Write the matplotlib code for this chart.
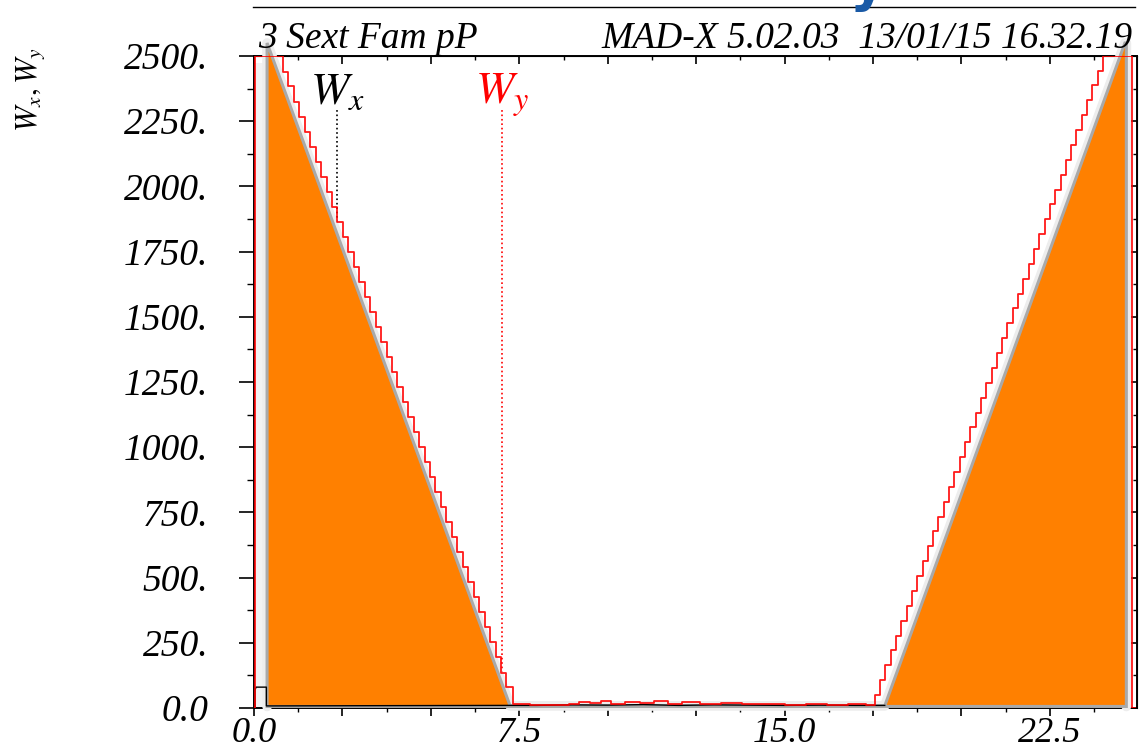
# -*- coding: utf-8 -*-
"""
Chromatic amplitude plot (Wx, Wy) in the MAD-X style
"""
import matplotlib
matplotlib.use('Agg')
import matplotlib.pyplot as plt
from matplotlib.lines import Line2D

plt.rcParams['font.family'] = ['Liberation Serif', 'DejaVu Serif']
plt.rcParams['mathtext.fontset'] = 'stix'

''' Data '''
# Wy (red staircase), left part: step start positions and levels
wy_left_s = [0.03, 0.82, 0.97, 1.13, 1.28, 1.44, 1.59, 1.74, 1.90, 2.05,
             2.21, 2.36, 2.51, 2.67, 2.82, 2.98, 3.13, 3.28, 3.44, 3.59,
             3.75, 3.90, 4.05, 4.21, 4.36, 4.52, 4.67, 4.82, 4.98, 5.13,
             5.29, 5.44, 5.59, 5.75, 5.90, 6.06, 6.21, 6.36, 6.52, 6.67,
             6.83, 6.98, 7.13, 7.32]
wy_left = [2500, 2440, 2384, 2325, 2268, 2210, 2152, 2095, 2037, 1980,
           1922, 1864, 1807, 1749, 1692, 1634, 1576, 1519, 1461, 1404,
           1346, 1288, 1231, 1173, 1116, 1058, 1000, 943, 885, 828,
           770, 712, 655, 597, 540, 482, 424, 367, 309, 252,
           194, 136, 79, 15]

# Wy middle (small noise)
wy_mid_s = [7.8, 8.4, 8.9, 9.2, 9.5, 9.8, 10.1, 10.5, 10.9, 11.3, 11.7,
            12.1, 12.6, 13.2, 13.8, 14.4, 15.0, 15.6, 16.2, 16.8, 17.3]
wy_mid = [12, 12, 14, 22, 18, 26, 17, 24, 19, 25, 16,
          22, 15, 18, 14, 16, 13, 15, 12, 14, 12]

# Wy right part
wy_right_s = [17.55, 17.70, 17.85, 18.00, 18.15, 18.30, 18.45, 18.60, 18.75, 18.90,
              19.05, 19.20, 19.35, 19.50, 19.65, 19.80, 19.95, 20.10, 20.25, 20.40,
              20.55, 20.70, 20.85, 21.00, 21.15, 21.30, 21.45, 21.60, 21.75, 21.90,
              22.05, 22.20, 22.35, 22.50, 22.65, 22.80, 22.95, 23.10, 23.25, 23.40,
              23.55, 23.70, 23.85, 24.00]
wy_right = [50, 107, 164, 221, 278, 335, 392, 449, 506, 563,
            620, 677, 734, 791, 848, 905, 962, 1019, 1076, 1133,
            1190, 1247, 1304, 1361, 1418, 1475, 1532, 1589, 1646, 1703,
            1760, 1817, 1874, 1931, 1988, 2045, 2102, 2159, 2216, 2273,
            2330, 2387, 2444, 2500]

# Wx (orange filled outline)
wx_s = [0.37, 0.37, 7.24, 17.83, 24.62, 24.66, 24.66]
wx = [6, 2550, 8, 8, 2550, 2550, 6]

# Wx small black parts
wx_mid_s = [0.03, 0.03, 0.06, 0.35, 0.35, 7.24, 8.0, 9.0, 10.0, 11.0, 12.0, 13.0,
            14.0, 15.0, 16.0, 17.0, 17.83]
wx_mid = [0, 70, 80, 80, 8, 10, 10, 12, 11, 13, 10, 12, 11, 10, 11, 10, 10]

marker_wx = 2.35
marker_wy = 7.01

y_ticks = [0, 250, 500, 750, 1000, 1250, 1500, 1750, 2000, 2250, 2500]
y_tick_labels = ['0.0', '250.', '500.', '750.', '1000.', '1250.', '1500.',
                 '1750.', '2000.', '2250.', '2500.']
x_ticks = [0, 2.5, 5, 7.5, 10, 12.5, 15, 17.5, 20, 22.5]
x_tick_labels = ['0.0', '', '', '7.5', '', '', '15.0', '', '', '22.5']

''' Figure '''
fig = plt.figure(figsize=(11.39, 7.5), dpi=100)
ax = fig.add_axes([0.2230, 0.056, 0.7752, 0.8693])

# red staircase assembled
red_s = [0.0] + wy_left_s + wy_mid_s + wy_right_s + [24.82, 24.9]
red_w = [0] + wy_left + wy_mid + wy_right + [0, 0]

# light shading between curves
ax.axvspan(0.04, 0.37, ymax=0.99, color='#f2f2f2', zorder=1, lw=0)
ax.axvspan(24.66, 24.80, ymax=0.99, color='#f2f2f2', zorder=1, lw=0)

# dotted markers
ax.plot([marker_wx, marker_wx], [0, 2300], color='black', ls=':', lw=1.2, zorder=2)
ax.plot([marker_wy, marker_wy], [0, 2300], color='red', ls=':', lw=1.2, zorder=2)

# Wx filled
ax.plot(wx_s, wx, color='#ededed', lw=7, zorder=3, clip_on=False,
        solid_capstyle='round')
ax.fill(wx_s, wx, facecolor='#ff8000', edgecolor='#a9a9a9', lw=2.2,
        zorder=4, clip_on=False)
ax.plot(wx_mid_s, wx_mid, color='black', lw=1.0, zorder=5)

# Wy
ax.step(red_s, red_w, where='post', color='red', lw=1.3, zorder=6, alpha=0.9)

ax.text(marker_wx, 2316, r'$W_x$', color='black', fontsize=33, ha='center',
        va='baseline', zorder=7)
ax.text(marker_wy, 2316, r'$W_y$', color='red', fontsize=33, ha='center',
        va='baseline', zorder=7)

''' Axes '''
ax.set_xlim(0, 24.96)
ax.set_ylim(0, 2500)
ax.set_yticks(y_ticks)
ax.set_yticklabels(y_tick_labels, fontsize=27, style='italic')
ax.set_yticks([v + 125 for v in y_ticks[:-1]], minor=True)
ax.set_xticks(x_ticks)
ax.set_xticklabels(x_tick_labels, fontsize=26, style='italic')
ax.set_xticks([v + 1.25 for v in x_ticks], minor=True)
ax.tick_params(axis='y', which='major', direction='out', length=11, width=1.2, pad=22)
ax.tick_params(axis='y', which='minor', direction='out', length=5, width=1.0)
ax.tick_params(axis='x', which='major', direction='out', length=6, width=1.2, pad=0.5)
ax.tick_params(axis='x', which='minor', direction='out', length=3, width=1.0)
for sp in ax.spines.values():
    sp.set_linewidth(1.4)

top = ax.secondary_xaxis('top')
top.set_xticks(x_ticks)
top.set_xticklabels([])
top.set_xticks([v + 1.25 for v in x_ticks], minor=True)
top.tick_params(which='major', direction='in', length=6, width=1.2)
top.tick_params(which='minor', direction='in', length=3, width=1.0)

right = ax.secondary_yaxis('right')
right.set_yticks(y_ticks)
right.set_yticklabels([])
right.set_yticks([v + 125 for v in y_ticks[:-1]], minor=True)
right.tick_params(which='major', direction='in', length=6, width=1.2)
right.tick_params(which='minor', direction='in', length=3, width=1.0)

''' Header '''
fig.text(0.2265, 0.936, '3 Sext Fam pP', fontsize=27, style='italic',
         ha='left', va='baseline')
fig.text(0.9947, 0.936, 'MAD-X 5.02.03  13/01/15 16.32.19', fontsize=27,
         style='italic', ha='right', va='baseline')
fig.add_artist(Line2D([253 / 1139, 1135 / 1139], [743 / 750, 743 / 750],
                      color='black', lw=1.0))
fig.text(0.746, 1.0, 'y', color='#1a5aa6', fontsize=40, weight='bold',
         family='DejaVu Sans', ha='left', va='baseline')

fig.text(0.027, 0.88, r'$W_x, W_y$', fontsize=22, rotation=90,
         ha='center', va='center')

fig.savefig('out.png', dpi=100)
